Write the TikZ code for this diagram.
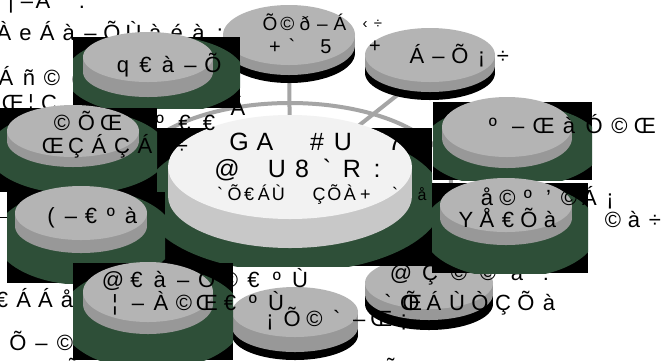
\documentclass[tikz,border=0pt]{standalone}
\usepackage{fontspec}
\newfontfamily\gf{Liberation Sans}
\definecolor{glow}{RGB}{46,79,56}
\definecolor{dtop}{RGB}{180,180,180}
\definecolor{dside}{RGB}{152,152,152}
\definecolor{ctop}{RGB}{242,242,242}
\definecolor{cside}{RGB}{200,200,200}
\definecolor{spoke}{RGB}{165,165,165}
\makeatletter
\def\pt@end{\pt@end}
\newcommand\pitched[2]{\begingroup\def\pt@w{#1}\pt@loop#2\pt@end\endgroup}
\def\pt@loop#1{\ifx#1\pt@end\else\makebox[\pt@w][c]{#1}\expandafter\pt@loop\fi}
\makeatother
% name, first char centre x, baseline y, pitch, size, chars
\newcommand\txt[6]{\node[anchor=base west,inner sep=0pt,outer sep=0pt] (#1) at ({#2-#4/2},#3) {\gf\fontsize{#5}{#5}\selectfont\pitched{#4pt}{#6}};}
% cx cy rx ry h top side shadow
\newcommand\disk[8]{%
  \ifdim#8pt>0pt
    \fill[black] (#1,#2+#5+#8) ellipse[x radius=#3pt,y radius=#4pt];
    \fill[black] (#1-#3,#2) rectangle (#1+#3,#2+#5+#8);
  \fi
  \fill[#7] (#1,#2+#5) ellipse[x radius=#3pt,y radius=#4pt];
  \fill[#7] (#1-#3,#2) rectangle (#1+#3,#2+#5);
  \fill[#6] (#1,#2) ellipse[x radius=#3pt,y radius=#4pt];}
% x1 y1 x2 y2 gx gy grx gry
\newcommand\imgbox[8]{%
  \fill[black] (#1,#2) rectangle (#3,#4);
  \begin{scope}\clip (#1,#2) rectangle (#3,#4);
    \fill[glow] (#5,#6) ellipse[x radius=#7pt,y radius=#8pt];
  \end{scope}}
\begin{document}
\begin{tikzpicture}[x=1pt,y=-1pt,spokeline/.style={draw=spoke,line width=4pt}]
\useasboundingbox (0,0) rectangle (669,360);
\clip (0,0) rectangle (669,360);
\fill[white] (0,0) rectangle (669,360);
\coordinate (hub) at (290,180);
\coordinate (d2) at (289,35);
\coordinate (d3) at (448,55);
% connectors and ring
\draw[spokeline] (hub) -- (d2);
\draw[spokeline] (hub) -- (d3);
\draw[spokeline] (hub) ellipse[x radius=161pt,y radius=77pt];
% texts partly hidden behind the images
\txt{tA}{-5}{8}{16}{22}{¦|–Á}
\txt{tA2}{82}{8}{10}{22}{.}
\txt{tB}{4}{40}{21.6}{22}{ÀeÁà–ÕÙàéà:}
\txt{tC}{6}{85}{23}{22}{Áñ©(}
\txt{tD}{13}{110}{18}{22}{Œ¦Ç}
% free disks
\disk{289}{35}{66}{30}{10}{dtop}{dside}{8}
\disk{430}{55}{65}{27}{10}{dtop}{dside}{8}
\disk{429}{283}{64}{26}{11}{dtop}{dside}{10}
\disk{295}{312}{63}{25}{15}{dtop}{dside}{8}
\txt{d6a}{401}{280}{29}{22}{@Ç©©à:}
% central image
\imgbox{157}{128}{432}{266}{293}{200}{150}{72}
\disk{290}{167}{122}{52}{29}{ctop}{cside}{0}
% satellite images
\imgbox{73}{37}{240}{108}{155}{75}{90}{40}
\disk{148}{57}{65}{25}{15}{dtop}{dside}{0}
\imgbox{0}{108}{157}{192}{78}{152}{90}{42}
\disk{73}{131}{66}{26}{10}{dtop}{dside}{0}
\imgbox{7}{192}{165}{283}{85}{237}{90}{48}
\disk{81}{213}{66}{27}{13}{dtop}{dside}{0}
\imgbox{73}{263}{233}{360}{152}{318}{92}{52}
\disk{148}{292}{65}{30}{12}{dtop}{dside}{0}
\imgbox{433}{102}{592}{180}{512}{146}{90}{42}
\disk{507}{127}{65}{30}{11}{dtop}{dside}{0}
\imgbox{432}{183}{588}{273}{510}{230}{88}{48}
\disk{506}{205}{66}{27}{13}{dtop}{dside}{0}
\draw[black,line width=1pt] (0,217) -- (7,217);
% texts
\txt{tE}{238}{115}{14}{22}{Á}
\txt{d10a}{62}{130}{24.5}{22}{©ÕŒ~º€€}
\txt{d10b}{53}{153}{23}{22}{ŒÇÁÇÁ}
\txt{d10c}{182}{153}{14}{22}{÷}
\txt{c1}{239}{150}{26}{25}{GA~\#U~7}
\txt{c2}{227}{177}{25}{25}{@~U8`R:}
\txt{c3a}{220}{200}{14.6}{18}{`Õ€ÁÙ}
\txt{c3b}{319}{200}{15.5}{18}{ÇÕÀ+}
\txt{c3c}{395}{200}{10}{18}{`}
\txt{c4}{422}{200}{10}{16}{å}
\txt{d1}{123}{72}{22.5}{22}{q€à–Õ}
\txt{d2a}{270}{30}{17.5}{19}{Õ©ð–Á}
\txt{d2b}{275}{53}{17}{20}{+`~5}
\txt{d2c}{365}{28}{13}{15}{‹÷}
\txt{d2d}{375}{52}{14}{20}{+}
\txt{d3}{417}{63}{21.5}{22}{Á–Õ¡÷}
\txt{d4}{493}{133}{25.3}{22}{º–ŒàÓ©Œ}
\txt{d5a}{487}{205}{20.5}{22}{å©º’©Á¡}
\txt{d5b}{466}{227}{21}{22}{YÅ€Õà~~©à÷}
\txt{d6b}{388}{310}{23}{22}{`ÕÁÙÒÇÕà}
\txt{d6c}{411}{310}{14}{22}{Œ}
\txt{d7}{270}{326}{22.3}{22}{¡Õ©`–Œ¡}
\txt{d8a}{113}{287}{23.4}{22}{@€à–Õ©€ºÙ}
\txt{d8b}{115}{310}{23}{22}{¦–À©Œ€ºÙ}
\txt{d9}{51}{223}{20}{22}{(–€ºà}
\txt{l1}{2}{307}{21.7}{22}{€ÁÁå}
\txt{l2}{18}{350}{23.5}{22}{Õ–©}
\txt{b1}{73}{377}{14}{22}{Õ}
\txt{b2}{391}{377}{14}{22}{Õ}
\end{tikzpicture}
\end{document}
